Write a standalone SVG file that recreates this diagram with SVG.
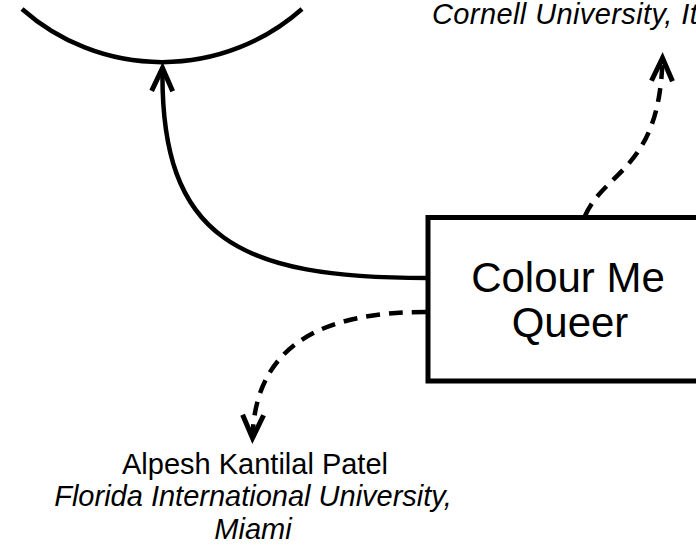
<svg xmlns="http://www.w3.org/2000/svg" width="696" height="545" viewBox="0 0 696 545">
  <style>
    .frame { fill: #ffffff; stroke: #000000; stroke-width: 5; }
    .edge { fill: none; stroke: #000000; stroke-width: 4.5; }
    .dashed { stroke-dasharray: 14 9; }
    .title { font-family: "Liberation Sans", Arial, sans-serif; font-size: 42px; fill: #000000; text-anchor: middle; }
    .name { font-family: "Liberation Sans", Arial, sans-serif; font-size: 29px; fill: #000000; text-anchor: middle; }
    .affil { font-family: "Liberation Sans", Arial, sans-serif; font-size: 29px; font-style: italic; fill: #000000; }
  </style>
  <defs>
    <marker id="chevron" markerUnits="userSpaceOnUse" orient="auto" markerWidth="40" markerHeight="40" refX="0" refY="0" viewBox="-30 -20 40 40" overflow="visible">
      <path d="M-23,-10.5 L0,0 L-23,10.5" fill="none" stroke="#000000" stroke-width="5" stroke-dasharray="none"/>
    </marker>
  </defs>

  <rect width="696" height="545" fill="#ffffff"/>

  <!-- large circle, only its lower rim is in view -->
  <g id="circle-node">
    <path class="edge" d="M22,9 A211,211 0 0 0 302,9"/>
  </g>

  <!-- upper affiliation label, running past the right edge -->
  <g id="cornell-label">
    <text class="affil" x="432" y="24" font-size="28" letter-spacing="0.4">Cornell University, Ithaca</text>
  </g>

  <!-- main box -->
  <g id="colour-me-queer">
    <rect class="frame" x="428" y="217.5" width="290" height="163.5"/>
    <text class="title" x="568" y="292">Colour Me</text>
    <text class="title" x="570" y="337">Queer</text>
  </g>

  <!-- author label -->
  <g id="patel-label">
    <text class="name" x="255" y="474">Alpesh Kantilal Patel</text>
    <text class="affil" x="253" y="506" text-anchor="middle">Florida International University,</text>
    <text class="affil" x="253" y="539" text-anchor="middle">Miami</text>
  </g>

  <g id="connectors">
    <path class="edge" d="M427,278 C240,278 160,240 162.5,68" marker-end="url(#chevron)"/>
    <path class="edge dashed" d="M585,216 C605,170 660,170 662.5,58" marker-end="url(#chevron)"/>
    <path class="edge dashed" d="M426,312 C330,312 255,340 252.5,438" marker-end="url(#chevron)"/>
  </g>
</svg>
